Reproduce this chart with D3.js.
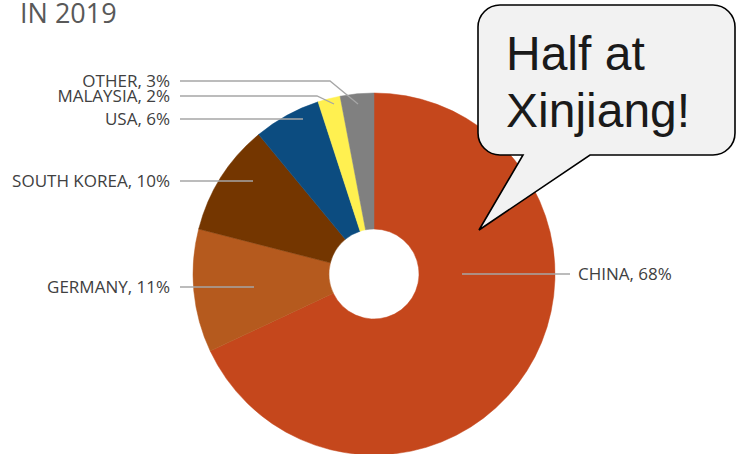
<!DOCTYPE html>
<html>
<head>
<meta charset="utf-8">
<script src="https://cdn.jsdelivr.net/npm/d3@7"></script>
<style>
  html, body { margin: 0; padding: 0; background: #fff; }
  #chart { width: 736px; height: 454px; overflow: hidden; }
</style>
</head>
<body>
<div id="chart"></div>
<script>
// Data
const countries = ["CHINA", "GERMANY", "SOUTH KOREA", "USA", "MALAYSIA", "OTHER"];
const shares = [68, 11, 10, 6, 2, 3];
const colors = ["#c5471c", "#b55a1e", "#743600", "#0c4c80", "#fff050", "#808080"];
const title = "IN 2019";
const calloutLines = ["Half at", "Xinjiang!"];

// Label layout (pixel offsets from pie centre): text y, leader end, optional elbow
const labelLayout = [
    { side: "right", ty: 0, end: [88, 0] },
    { side: "left", ty: 13, end: [-120, 13] },
    { side: "left", ty: -93, end: [-121, -93] },
    { side: "left", ty: -155, end: [-71, -155] },
    { side: "left", ty: -178, end: [-40, -170], elbow: -57 },
    { side: "left", ty: -193, end: [-16, -170], elbow: -44 }
];

const width = 736, height = 454;
const cx = 374, cy = 274;
const outerR = 181, innerR = 45;

const svg = d3.select("#chart")
    .append("svg")
    .attr("width", width)
    .attr("height", height);

// Title (cut off at top like the source)
svg.append("text")
    .attr("x", 20)
    .attr("y", 23)
    .attr("font-family", "Open Sans")
    .attr("font-size", "27px")
    .attr("fill", "#595959")
    .text(title);

const data = countries.map((c, i) => ({ name: c, value: shares[i], color: colors[i], layout: labelLayout[i] }));

const pie = d3.pie().sort(null).value(d => d.value);
const arc = d3.arc().innerRadius(innerR).outerRadius(outerR);

const g = svg.append("g").attr("transform", `translate(${cx},${cy})`);

g.selectAll("path.slice")
    .data(pie(data))
    .join("path")
    .attr("class", "slice")
    .attr("d", arc)
    .attr("fill", d => d.data.color)
    .attr("stroke", d => d.data.color)
    .attr("stroke-width", 0.5);

// Leader lines and labels
const leftX = -194, rightX = 196;
data.forEach(d => {
    const L = d.layout;
    const startX = L.side === "left" ? leftX : rightX;
    const pts = [[startX, L.ty]];
    if (L.elbow !== undefined) pts.push([L.elbow, L.ty]);
    pts.push(L.end);
    g.append("path")
        .attr("d", d3.line()(pts))
        .attr("fill", "none")
        .attr("stroke", "#a6a6a6")
        .attr("stroke-width", 1.3);

    g.append("text")
        .attr("x", L.side === "left" ? startX - 10 : startX + 8)
        .attr("y", L.ty)
        .attr("dy", "0.35em")
        .attr("text-anchor", L.side === "left" ? "end" : "start")
        .attr("font-family", "Open Sans")
        .attr("font-size", "17px")
        .attr("fill", "#404040")
        .text(`${d.name}, ${d.value}%`);
});

// Speech bubble callout
const bx0 = 478, by0 = 5, bx1 = 735, by1 = 155, r = 22;
const tail = [[590, by1], [479, 230], [523, by1]];
const bubble = d3.path();
bubble.moveTo(bx0 + r, by0);
bubble.lineTo(bx1 - r, by0);
bubble.arcTo(bx1, by0, bx1, by0 + r, r);
bubble.lineTo(bx1, by1 - r);
bubble.arcTo(bx1, by1, bx1 - r, by1, r);
bubble.lineTo(tail[0][0], tail[0][1]);
bubble.lineTo(tail[1][0], tail[1][1]);
bubble.lineTo(tail[2][0], tail[2][1]);
bubble.lineTo(bx0 + r, by1);
bubble.arcTo(bx0, by1, bx0, by1 - r, r);
bubble.lineTo(bx0, by0 + r);
bubble.arcTo(bx0, by0, bx0 + r, by0, r);
bubble.closePath();

svg.append("path")
    .attr("d", bubble.toString())
    .attr("fill", "#f2f2f2")
    .attr("stroke", "#000")
    .attr("stroke-width", 1.6);

svg.append("g")
    .selectAll("text")
    .data(calloutLines)
    .join("text")
    .attr("x", 506)
    .attr("y", (d, i) => 70 + i * 57)
    .attr("font-family", "Liberation Sans, Arial, sans-serif")
    .attr("font-size", "48px")
    .attr("fill", "#1a1a1a")
    .text(d => d);
</script>
</body>
</html>
